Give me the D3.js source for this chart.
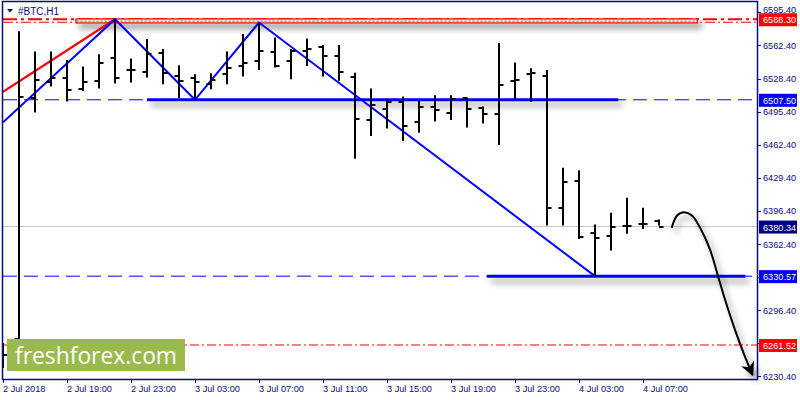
<!DOCTYPE html>
<html><head><meta charset="utf-8">
<script src="https://cdn.jsdelivr.net/npm/d3@7"></script>
<style>html,body{margin:0;padding:0;background:#fff;}svg{display:block;font-family:"Liberation Sans",Arial,sans-serif;}</style>
</head><body>
<svg id="c" width="800" height="400"></svg>
<script>
// ---- data ----
const barIndex = d3.range(42);
const openP  = [6258,6268,6509,6525.5,6529.5,6518.8,6526.2,6549.6,6537,6534.9,6554,6531.5,6528.9,6523.2,6533.2,6541,6546.3,6555,6546.3,6556.6,6560,6551.6,6530.5,6487.3,6498,6505.3,6485.6,6500.3,6494.7,6509.7,6499.7,6492.9,6526.6,6533.2,6531.5,6399.1,6425.9,6373.9,6371.2,6380.6,6383.3,6386.3];
const highP  = [6263.6,6576.2,6556,6556,6547.3,6540.9,6553.3,6588.3,6549,6568.4,6558.4,6542.2,6533.2,6534.2,6556,6573.5,6584.5,6570.1,6558.4,6569.1,6562.4,6562.4,6534.7,6518.8,6508,6510.8,6506.3,6512.1,6512.1,6509.7,6500.7,6564.4,6545,6539.2,6537.5,6439.3,6436.9,6382.3,6394.1,6409.2,6399.1,6387.3];
const lowP   = [6238.4,6266.6,6494.7,6520.8,6505.7,6516.4,6518.8,6523.9,6524.9,6529.9,6523.2,6509,6507.5,6518.1,6523.2,6530.9,6537.5,6539.9,6528.2,6541.5,6530.9,6526.6,6448.4,6471.1,6478.6,6466.1,6474.5,6485.6,6487.3,6479.6,6483.6,6462.1,6508,6505.3,6381.3,6381.3,6367.9,6330.57,6356.2,6373,6378,6381.3];
const closeP = [6251.5,6510.4,6527.5,6529.5,6517.4,6524.9,6544,6529.5,6537.5,6553.3,6534.2,6525.9,6525.5,6527.5,6539,6544,6556.6,6541.5,6556.6,6558.4,6551.6,6535.5,6488,6502.3,6505.3,6481.2,6500.3,6497.3,6508.7,6498,6493.6,6522.4,6527.2,6533.9,6399.1,6425.3,6369.9,6368.9,6380,6380.6,6383.3,6380.34];
const timeLabels = ["2 Jul 2018","2 Jul 19:00","2 Jul 23:00","3 Jul 03:00","3 Jul 07:00","3 Jul 11:00","3 Jul 15:00","3 Jul 19:00","3 Jul 23:00","4 Jul 03:00","4 Jul 07:00"];
const timeLabelIndex = [0,4,8,12,16,20,24,28,32,36,40];
const priceTicks = [6595.40,6562.40,6528.40,6495.40,6462.40,6429.40,6396.40,6362.40,6329.40,6296.40,6263.40,6230.40];
const levelValues = [6588.30,6507.50,6380.34,6330.57,6261.52];
const zigzagIdx = [0,7,12,16,37];
const zigzagPrice = [6484.9,6588.3,6507.5,6585,6330.57];
const redTrendIdx = [0,7];
const redTrendPrice = [6515.4,6588.3];
const arrowIdx = [41.79,42.13,42.56,43.06,43.56,44.19,44.69,45.13,45.75,46.38,46.85];
const arrowPrice = [6379.0,6391.4,6394.7,6391.4,6379.3,6357.2,6330.5,6306.9,6276.7,6249.5,6231.5];

// ---- scales ----
const L=3, R=757, T=2, B=379;
const x = d3.scaleLinear().domain([0,47.125]).range([L,R]);
const y = d3.scaleLinear().domain([6227.4,6605.6]).range([B,T]);
const svg = d3.select("#c");
const navy = "#0a0a84";

const defs = svg.append("defs");
const f = defs.append("filter").attr("id","sh").attr("filterUnits","userSpaceOnUse").attr("x",0).attr("y",0).attr("width",800).attr("height",400);
f.append("feGaussianBlur").attr("in","SourceAlpha").attr("stdDeviation",3).attr("result","b");
f.append("feOffset").attr("in","b").attr("dx",4).attr("dy",5).attr("result","o");
f.append("feComponentTransfer").attr("in","o").attr("result","o2").append("feFuncA").attr("type","linear").attr("slope",0.45);
const fm = f.append("feMerge"); fm.append("feMergeNode").attr("in","o2"); fm.append("feMergeNode").attr("in","SourceGraphic");
const mk = defs.append("marker").attr("id","ah").attr("viewBox","0 0 10 10").attr("refX",9).attr("refY",5)
  .attr("markerWidth",8).attr("markerHeight",7).attr("markerUnits","strokeWidth").attr("orient","auto");
mk.append("path").attr("d","M0,0 L10,5 L0,10 L3,5 Z").attr("fill","#000");

svg.append("clipPath").attr("id","clip").append("rect").attr("x",L).attr("y",T).attr("width",R-L).attr("height",B-T);
const g = svg.append("g").attr("clip-path","url(#clip)");

// horizontal level lines
g.append("line").attr("x1",L).attr("x2",R).attr("y1",y(levelValues[2])).attr("y2",y(levelValues[2])).attr("stroke","#c8c8c8").attr("stroke-width",1);
g.append("line").attr("x1",L).attr("x2",R).attr("y1",y(levelValues[1])).attr("y2",y(levelValues[1])).attr("stroke","#0000ff").attr("stroke-width",1).attr("stroke-dasharray","14,7");
g.append("line").attr("x1",L).attr("x2",R).attr("y1",y(levelValues[3])).attr("y2",y(levelValues[3])).attr("stroke","#0000ff").attr("stroke-width",1).attr("stroke-dasharray","14,7");
g.append("line").attr("x1",L).attr("x2",R).attr("y1",y(levelValues[4])).attr("y2",y(levelValues[4])).attr("stroke","#ff0000").attr("stroke-width",1).attr("stroke-dasharray","9,3,2,3");
g.append("line").attr("x1",L).attr("x2",R).attr("y1",y(levelValues[0])).attr("y2",y(levelValues[0])).attr("stroke","#ff0000").attr("stroke-width",2).attr("stroke-dasharray","14,4,3,4");
g.append("line").attr("x1",L).attr("x2",R).attr("y1",y(levelValues[0])+3).attr("y2",y(levelValues[0])+3).attr("stroke","#ff0000").attr("stroke-width",1).attr("stroke-dasharray","10,3,2,3");

// red rectangle zone
g.append("rect").attr("x",x(4.56)).attr("y",y(6588.6)).attr("width",x(43.4)-x(4.56)).attr("height",y(6584.6)-y(6588.6))
  .attr("fill","#e4e4e4").attr("stroke","#ff0000").attr("stroke-width",1.2).attr("filter","url(#sh)");
g.append("line").attr("x1",x(4.6)).attr("x2",x(43.4)).attr("y1",y(6586.3)).attr("y2",y(6586.3)).attr("stroke","#888").attr("stroke-width",1).attr("stroke-dasharray","2,2");

// thick blue horizontals
g.append("line").attr("x1",x(9)).attr("x2",x(38.45)).attr("y1",y(levelValues[1])).attr("y2",y(levelValues[1])).attr("stroke","#0000ff").attr("stroke-width",3).attr("filter","url(#sh)");
g.append("line").attr("x1",x(30.25)).attr("x2",x(46.4)).attr("y1",y(levelValues[3])).attr("y2",y(levelValues[3])).attr("stroke","#0000ff").attr("stroke-width",3).attr("filter","url(#sh)");

// trend lines
const ln = d3.line().x(d=>x(d[0])).y(d=>y(d[1]));
g.append("path").attr("d",ln(d3.zip(redTrendIdx,redTrendPrice))).attr("fill","none").attr("stroke","#ff0000").attr("stroke-width",2.2);
g.append("path").attr("d",ln(d3.zip(zigzagIdx,zigzagPrice))).attr("fill","none").attr("stroke","#0000ff").attr("stroke-width",2);

// OHLC bars
const bars = g.append("g").attr("stroke","#000").attr("stroke-width",2);
barIndex.forEach(i=>{
  const cx = Math.round(x(i));
  bars.append("line").attr("x1",cx).attr("x2",cx).attr("y1",y(highP[i])).attr("y2",y(lowP[i]));
  bars.append("line").attr("x1",cx-4.5).attr("x2",cx).attr("y1",Math.round(y(openP[i]))).attr("y2",Math.round(y(openP[i])));
  bars.append("line").attr("x1",cx).attr("x2",cx+4.5).attr("y1",Math.round(y(closeP[i]))).attr("y2",Math.round(y(closeP[i])));
});

// curved arrow
const cl = d3.line().x(d=>x(d[0])).y(d=>y(d[1])).curve(d3.curveCatmullRom);
svg.append("path").attr("d",cl(d3.zip(arrowIdx,arrowPrice))).attr("fill","none").attr("stroke","#000").attr("stroke-width",2)
  .attr("marker-end","url(#ah)").attr("filter","url(#sh)");

// logo
svg.append("rect").attr("x",7).attr("y",339).attr("width",178).attr("height",32).attr("fill","#9aba4e");
svg.append("text").attr("x",15).attr("y",364).attr("fill","#fff").attr("font-family","'Open Sans',sans-serif")
  .attr("font-size",24).attr("textLength",162).attr("lengthAdjust","spacingAndGlyphs").text("freshforex.com");

// frame
svg.append("rect").attr("x",L-0.5).attr("y",T-0.5).attr("width",R-L+1).attr("height",B-T+1).attr("fill","none").attr("stroke",navy).attr("stroke-width",1.5);

// title
svg.append("path").attr("d","M7,9 L13,9 L10,12.5 Z").attr("fill",navy);
svg.append("text").attr("x",18).attr("y",15).attr("font-size",10).attr("fill",navy).text("#BTC,H1");

// right axis
const ra = svg.append("g");
priceTicks.forEach(p=>{
  const yy = y(p);
  ra.append("line").attr("x1",R).attr("x2",R+4).attr("y1",Math.round(yy)+0.5).attr("y2",Math.round(yy)+0.5).attr("stroke",navy);
  const near = levelValues.some(v=>Math.abs(y(v)-yy)<5);
  const nearAbove = levelValues.some(v=>y(v)-yy>=5 && y(v)-yy<10);
  if(near) return;
  ra.append("text").attr("x",763).attr("y",nearAbove? yy+1 : yy+3.5).attr("font-size",9.2).attr("fill",navy).text(p.toFixed(2));
});
const levelFill = ["#ff0000","#0000ff","#000080","#0000ff","#ff0000"];
levelValues.forEach((v,i)=>{
  const yy = y(v);
  ra.append("rect").attr("x",759).attr("y",yy-6).attr("width",38).attr("height",13).attr("fill",levelFill[i]);
  ra.append("text").attr("x",763).attr("y",yy+4).attr("font-size",9.2).attr("fill","#fff").text(v.toFixed(2));
});

// bottom axis
const ba = svg.append("g");
timeLabelIndex.forEach((k,i)=>{
  const tx = Math.round(x(k))+0.5;
  ba.append("line").attr("x1",tx).attr("x2",tx).attr("y1",B).attr("y2",B+4).attr("stroke",navy);
  ba.append("text").attr("x",tx-0.5).attr("y",392).attr("font-size",9.2).attr("fill",navy).text(timeLabels[i]);
});
</script>
</body></html>
